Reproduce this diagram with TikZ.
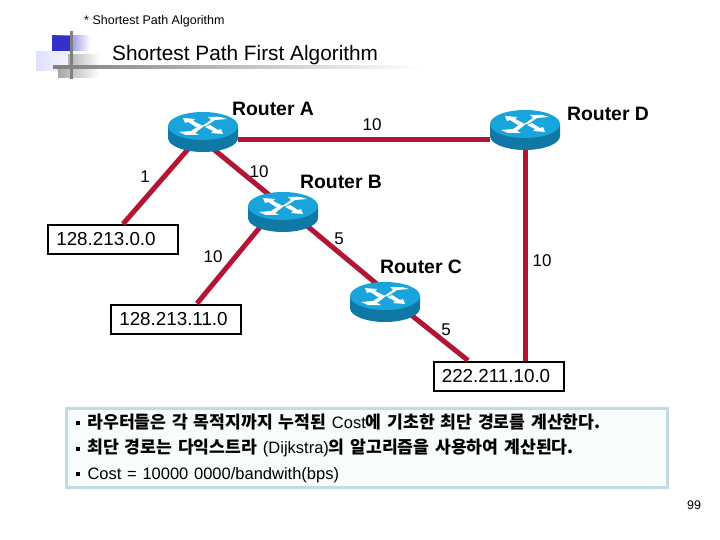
\documentclass[tikz,border=0pt]{standalone}
\usepackage{fontspec}
\setmainfont{Liberation Sans}
\newfontfamily\krfont{Noto Sans CJK KR}
\usetikzlibrary{positioning,calc,backgrounds}
\definecolor{routertop}{RGB}{25,165,220}
\definecolor{routerside}{RGB}{15,120,165}
\definecolor{linkred}{RGB}{178,22,52}
\definecolor{boxedge}{RGB}{190,220,225}
\definecolor{boxfill}{RGB}{248,252,252}
\definecolor{logoblue}{RGB}{50,50,200}
\tikzset{
  routernode/.style={minimum width=70pt,minimum height=40pt,inner sep=0pt},
  netbox/.style={draw,line width=2pt,fill=white,minimum width=130pt,minimum height=29pt,inner sep=0pt,font=\fontsize{18.8}{20}\selectfont},
  link/.style={linkred,line width=5pt},
  rlabel/.style={font=\fontsize{19.4}{20}\selectfont\bfseries,inner sep=0pt},
  cost/.style={font=\fontsize{17}{20}\selectfont,inner sep=0pt},
  swoosh/.style={fill=white,draw=none},
  routericon/.pic={
    \fill[routerside] (-35,-6) -- (-35,6) arc[start angle=180,end angle=0,x radius=35,y radius=14] -- (35,-6) -- cycle;
    \fill[routertop] (0,-6) ellipse [x radius=35,y radius=14];
    \fill[swoosh] (-20,-14) -- (-8,-13) -- (-10,-11) -- (-2,-7) -- (-7,-5) -- (-15,-10) -- (-18,-9) -- cycle;
    \fill[swoosh] (20,2) -- (8,1) -- (10,-1) -- (2,-5) -- (7,-7) -- (15,-2) -- (18,-3) -- cycle;
    \fill[swoosh] (-24,0) -- (-12,-1) -- (-3,-7) -- (1,-6) -- (-8,1) -- (-4,3) -- (-17,3) -- cycle;
    \fill[swoosh] (24,-13) -- (12,-12) -- (3,-6) -- (-1,-6) -- (8,-12) -- (5,-15) -- (17,-15) -- cycle;
  }
}
\newcommand{\notemark}{\rule[3pt]{4pt}{4pt}\hspace{8pt}}
\newcommand{\notelatin}[1]{{\normalfont\fontsize{16.5}{25.5}\selectfont #1}}
\begin{document}
\begin{tikzpicture}[x=1pt,y=-1pt]
\useasboundingbox (0,0) rectangle (720,540);
% logo
\shade[left color=logoblue,right color=white] (52,36) rectangle (90,55);
\fill[logoblue] (52,36) rectangle (72,55);
\shade[left color=blue!12,right color=white] (36,52) rectangle (90,71);
\shade[left color=gray!60,right color=white] (68,55) rectangle (100,67);
\shade[left color=gray!70,right color=white] (58,67) rectangle (100,78);
\fill[gray] (70,31) rectangle (73,79);
\shade[left color=gray,right color=white] (53,66) rectangle (420,69);
\node[anchor=west,inner sep=0pt,font=\fontsize{12.5}{14}\selectfont] (head) at (84,21) {* Shortest Path Algorithm};
\node[anchor=west,inner sep=0pt,font=\fontsize{20.8}{24}\selectfont] (title) at (112,55) {Shortest Path First Algorithm};
% routers and networks
\node[routernode] (ra) at (203,132) {};
\node[routernode] (rb) at (283,212) {};
\node[routernode] (rc) at (385,302) {};
\node[routernode] (rd) at (525,130) {};
\node[netbox] (neta) at (113,239.5) {\hspace*{-14pt}128.213.0.0};
\node[netbox] (netb) at (176,319) {\hspace*{-5pt}128.213.11.0};
\node[netbox] (netc) at (499,376) {\hspace*{-6pt}222.211.10.0};
\draw[link] ([yshift=-8pt]ra.east) -- ([yshift=-10pt]rd.west);
\draw[link] (ra.center) -- ([xshift=10pt]neta.north);
\draw[link] ([xshift=2pt,yshift=10pt]ra.south) -- ([xshift=-3pt,yshift=-12pt]rb.north);
\draw[link] ([xshift=-13pt,yshift=-3pt]rb.center) -- ([xshift=21pt]netb.north);
\draw[link] ([xshift=17pt,yshift=-8pt]rb.center) -- ([xshift=-7pt,yshift=17pt]rc.center);
\draw[link] ([xshift=20pt,yshift=-8pt]rc.center) -- ([xshift=-31pt]netc.north);
\draw[link] (rd.center) -- (rd.center |- netc.north);
\foreach \rname in {ra,rb,rc,rd} \pic at (\rname) {routericon};
\node[rlabel] (la) at (273,109) {Router A};
\node[rlabel] (lb) at (341,182) {Router B};
\node[rlabel] (lc) at (421,267) {Router C};
\node[rlabel] (ld) at (608,114) {Router D};
\node[cost] (c1) at (145,177) {1};
\node[cost] (c2) at (259,172) {10};
\node[cost] (c3) at (372,125) {10};
\node[cost] (c4) at (213,257) {10};
\node[cost] (c5) at (339,239) {5};
\node[cost] (c6) at (542,261) {10};
\node[cost] (c7) at (446,330) {5};
% notes
\node[draw=boxedge,line width=3pt,fill=boxfill,anchor=north west,minimum width=601pt,minimum height=79pt,inner sep=0pt,inner xsep=9pt,align=left,text width=583pt,font=\krfont\bfseries\fontsize{17.2}{25.5}\selectfont] (notes) at (65,407) {\notemark 라우터들은 각 목적지까지 누적된 \notelatin{Cost}에 기초한 최단 경로를 계산한다.\\\notemark 최단 경로는 다익스트라 \notelatin{(Dijkstra)}의 알고리즘을 사용하여 계산된다.\\\notemark \notelatin{Cost = 10000 0000/bandwith(bps)}};
\node[inner sep=0pt,font=\fontsize{12.5}{14}\selectfont] (page) at (694,505) {99};
\end{tikzpicture}
\end{document}
